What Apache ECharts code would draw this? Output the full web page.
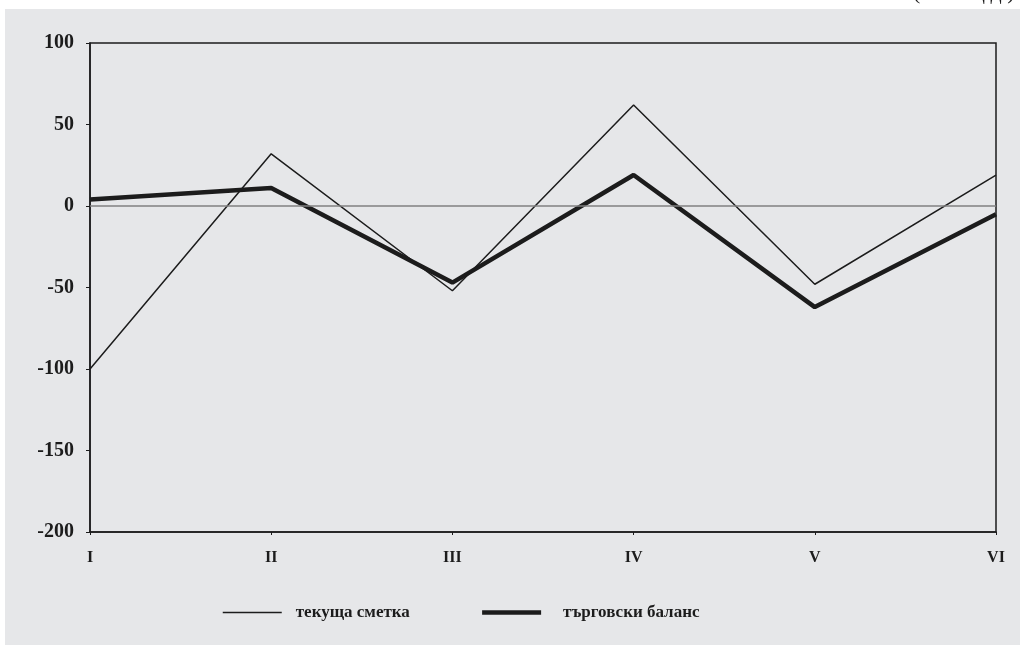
<!DOCTYPE html>
<html>
<head>
<meta charset="utf-8">
<script src="https://cdn.jsdelivr.net/npm/echarts@6/dist/echarts.min.js"></script>
<style>
  html, body { margin: 0; padding: 0; background: #ffffff; }
  #chart { width: 1020px; height: 645px; }
</style>
</head>
<body>
<div id="chart"></div>
<script>
// Months (Roman numerals) and the two balances, in millions of US dollars
var months = ['I', 'II', 'III', 'IV', 'V', 'VI'];
var currentAccount = [-100, 32, -52, 62, -48, 19];
var tradeBalance = [4, 11, -47, 19, -62, -5];
var yTicks = [-200, -150, -100, -50, 0, 50, 100];
var seriesNames = ['текуща сметка', 'търговски баланс'];
var unitNote = '(млн. щ.д.)';

var serif = '"Liberation Serif", "DejaVu Serif", serif';
var ink = '#1c1c1c';
var thinWidth = 1.5;
var thickWidth = 4.5;

var chart = echarts.init(document.getElementById('chart'));
chart.setOption({
  backgroundColor: '#ffffff',
  animation: false,
  graphic: [
    { type: 'rect', z: -10, shape: { x: 5, y: 9, width: 1015, height: 636 },
      style: { fill: '#e6e7e9' } },
    { type: 'text', left: 913, top: -18,
      style: { text: unitNote, font: '22px ' + serif, fill: ink } }
  ],
  grid: {
    left: 90, right: 24, top: 43, bottom: 113,
    show: true, borderColor: ink, borderWidth: 1.5, backgroundColor: 'transparent'
  },
  legend: {
    data: [
      { name: seriesNames[0], lineStyle: { width: thinWidth },
        textStyle: { padding: [0, 0, 0, 9] } },
      { name: seriesNames[1], lineStyle: { width: thickWidth },
        textStyle: { padding: [0, 0, 0, 17] } }
    ],
    left: 217, top: 599,
    itemWidth: 59, itemHeight: 18,
    itemGap: 70,
    itemStyle: { opacity: 0 },
    textStyle: { fontFamily: serif, fontWeight: 'bold', fontSize: 17, color: ink }
  },
  xAxis: {
    type: 'category',
    data: months,
    boundaryGap: false,
    axisLine: { onZero: false, lineStyle: { color: ink, width: 1.5 } },
    axisTick: { show: true, length: 3, lineStyle: { color: ink } },
    axisLabel: { fontFamily: serif, fontWeight: 'bold', fontSize: 16, color: ink, margin: 18 },
    splitLine: { show: false }
  },
  yAxis: {
    type: 'value',
    min: yTicks[0], max: yTicks[yTicks.length - 1], interval: 50,
    axisLine: { show: true, lineStyle: { color: ink, width: 1.5 } },
    axisTick: { show: true, length: 4, lineStyle: { color: ink } },
    axisLabel: { fontFamily: serif, fontWeight: 'bold', fontSize: 20, color: ink, margin: 16 },
    splitLine: { show: false }
  },
  series: [
    {
      name: seriesNames[0], type: 'line', data: currentAccount,
      symbol: 'none', showSymbol: false,
      lineStyle: { color: ink, width: thinWidth },
      itemStyle: { color: ink },
      markLine: {
        silent: true, symbol: 'none', label: { show: false },
        lineStyle: { color: '#808080', width: 1.5, type: 'solid' },
        data: [{ yAxis: 0 }]
      },
      z: 3
    },
    {
      name: seriesNames[1], type: 'line', data: tradeBalance,
      symbol: 'none', showSymbol: false,
      lineStyle: { color: ink, width: thickWidth },
      itemStyle: { color: ink },
      z: 2
    }
  ]
});
</script>
</body>
</html>
